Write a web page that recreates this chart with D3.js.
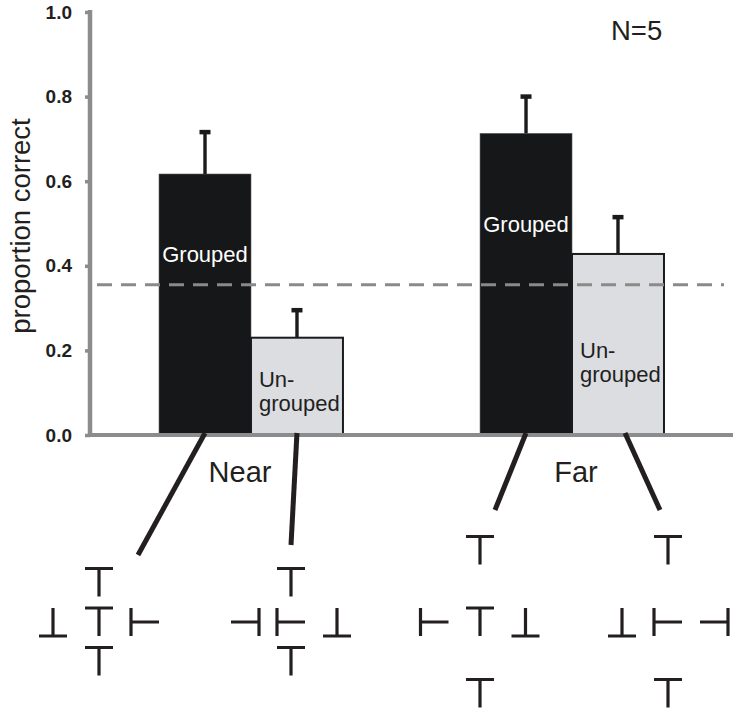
<!DOCTYPE html>
<html>
<head>
<meta charset="utf-8">
<script src="https://cdn.jsdelivr.net/npm/d3@7"></script>
<style>
  html, body { margin: 0; padding: 0; background: #fff; }
  svg { display: block; }
  text { font-family: "Liberation Sans", Arial, Helvetica, sans-serif; }
</style>
</head>
<body>
<svg id="chart" width="738" height="713"></svg>
<script>
// ---------------- data ----------------
const groups = ["Near", "Far"];
const conditions = ["Grouped", "Ungrouped"];
const groupedMean = [0.617, 0.713];
const groupedErr = [0.102, 0.090];
const ungroupedMean = [0.230, 0.428];
const ungroupedErr = [0.068, 0.090];
const chanceLevel = 0.355;
const yTicks = [0.0, 0.2, 0.4, 0.6, 0.8, 1.0];
const sampleLabel = "N=5";
const yAxisLabel = "proportion correct";

// stimulus layouts (grid column, grid row, letter orientation)
const stimNearGrouped = [
  {c: 0, r: -1, o: "T"}, {c: 0, r: 0, o: "T"}, {c: 0, r: 1, o: "T"},
  {c: -1, r: 0, o: "B"}, {c: 1, r: 0, o: "L"}
];
const stimNearUngrouped = [
  {c: 0, r: -1, o: "T"}, {c: -1, r: 0, o: "R"}, {c: 0, r: 0, o: "L"},
  {c: 1, r: 0, o: "B"}, {c: 0, r: 1, o: "T"}
];
const stimFarGrouped = [
  {c: 0, r: -1, o: "T"}, {c: 0, r: 0, o: "T"}, {c: 0, r: 1, o: "T"},
  {c: -1, r: 0, o: "L"}, {c: 1, r: 0, o: "B"}
];
const stimFarUngrouped = [
  {c: 0, r: -1, o: "T"}, {c: -1, r: 0, o: "B"}, {c: 0, r: 0, o: "L"},
  {c: 1, r: 0, o: "R"}, {c: 0, r: 1, o: "T"}
];

// ---------------- build table ----------------
const bars = [];
groups.forEach((g, i) => {
  bars.push({group: g, cond: "Grouped", mean: groupedMean[i], err: groupedErr[i], gi: i});
  bars.push({group: g, cond: "Ungrouped", mean: ungroupedMean[i], err: ungroupedErr[i], gi: i});
});

// ---------------- layout ----------------
const svg = d3.select("#chart");
const font = '"Liberation Sans", Arial, Helvetica, sans-serif';
const axisColor = "#8b8c8e";
const ink = "#1b1a1c";

const y = d3.scaleLinear().domain([0, 1]).range([435, 12]);
const xG = d3.scaleBand().domain(groups).range([90, 733])
  .paddingInner(0.427).paddingOuter(0.215);
const xC = d3.scaleBand().domain(conditions).range([0, xG.bandwidth()]);

// Y axis
const yAxis = svg.append("g").attr("transform", "translate(90,0)")
  .call(d3.axisLeft(y).tickValues(yTicks).tickFormat(d3.format(".1f"))
    .tickSize(5).tickSizeOuter(0).tickPadding(13));
yAxis.select(".domain").attr("stroke", axisColor).attr("stroke-width", 4.5)
  .attr("d", `M0,${y(0) + 2}V${y(1) - 2}`);
yAxis.selectAll(".tick line").attr("stroke", axisColor).attr("stroke-width", 3.5);
yAxis.selectAll(".tick text")
  .attr("font-family", font).attr("font-size", 19).attr("font-weight", "bold")
  .attr("fill", "#231f20");

// Y label
svg.append("text")
  .attr("transform", `translate(30,${226}) rotate(-90)`)
  .attr("text-anchor", "middle")
  .attr("font-size", 27.5).attr("fill", "#231f20")
  .text(yAxisLabel);

// Bars
const barG = svg.append("g");
barG.selectAll("rect.bar").data(bars).join("rect")
  .attr("class", "bar")
  .attr("x", d => xG(d.group) + xC(d.cond))
  .attr("width", xC.bandwidth())
  .attr("y", d => y(d.mean))
  .attr("height", d => y(0) - y(d.mean))
  .attr("fill", d => d.cond === "Grouped" ? "#161719" : "#dcdde0")
  .attr("stroke", d => d.cond === "Grouped" ? "#5a5a5c" : ink)
  .attr("stroke-width", d => d.cond === "Grouped" ? 0.6 : 2);

// Error bars
const eb = svg.append("g");
eb.selectAll("line").data(bars).join("line")
  .attr("x1", d => xG(d.group) + xC(d.cond) + xC.bandwidth() / 2)
  .attr("x2", d => xG(d.group) + xC(d.cond) + xC.bandwidth() / 2)
  .attr("y1", d => y(d.mean))
  .attr("y2", d => y(d.mean + d.err))
  .attr("stroke", ink).attr("stroke-width", 3.4);
eb.selectAll("rect").data(bars).join("rect")
  .attr("x", d => xG(d.group) + xC(d.cond) + xC.bandwidth() / 2 - 5.5)
  .attr("y", d => y(d.mean + d.err) - 1)
  .attr("width", 11).attr("height", 4.5)
  .attr("fill", ink);

// Bar labels
const grpLabelFrac = [0.663, 0.673];
const ungLabelFrac = [0.49, 0.425];
svg.selectAll("text.glab").data(bars.filter(d => d.cond === "Grouped")).join("text")
  .attr("class", "glab")
  .attr("x", d => xG(d.group) + xC(d.cond) + xC.bandwidth() / 2)
  .attr("y", d => y(d.mean * grpLabelFrac[d.gi]))
  .attr("text-anchor", "middle").attr("font-size", 22).attr("fill", "#ffffff")
  .text("Grouped");
const ung = svg.selectAll("text.ulab").data(bars.filter(d => d.cond === "Ungrouped")).join("text")
  .attr("class", "ulab")
  .attr("x", d => xG(d.group) + xC(d.cond) + 8)
  .attr("y", d => y(d.mean * ungLabelFrac[d.gi]))
  .attr("font-size", 22).attr("fill", "#231f20");
ung.append("tspan").text("Un-");
ung.append("tspan").attr("x", d => xG(d.group) + xC(d.cond) + 8).attr("dy", 24).text("grouped");

// Chance line (dashed)
svg.append("line")
  .attr("x1", 97).attr("x2", 724)
  .attr("y1", y(chanceLevel)).attr("y2", y(chanceLevel))
  .attr("stroke", "#8a8a8a").attr("stroke-width", 3)
  .attr("stroke-dasharray", "15,9");

// X axis
const xAxis = svg.append("g").attr("transform", `translate(0,${y(0)})`)
  .call(d3.axisBottom(xG).tickSize(0).tickSizeOuter(0).tickPadding(26));
xAxis.select(".domain").attr("stroke", axisColor).attr("stroke-width", 4)
  .attr("d", "M88,0H733");
xAxis.selectAll(".tick text")
  .attr("font-family", font).attr("font-size", 29).attr("fill", "#231f20")
  .attr("dx", d => d === "Near" ? -11 : 4);

// N label
svg.append("text").attr("x", 611).attr("y", 40)
  .attr("font-size", 27.5).attr("fill", "#231f20").text(sampleLabel);

// ---------------- stimuli illustrations ----------------
const stimuli = [
  {bar: bars[0], items: stimNearGrouped, cx: 99, cy: 622, col: 46, row: 39.5, end: [138, 555]},
  {bar: bars[1], items: stimNearUngrouped, cx: 291, cy: 622, col: 46, row: 39.5, end: [291, 545]},
  {bar: bars[2], items: stimFarGrouped, cx: 480, cy: 622, col: 45.5, row: 71.5, end: [495, 510]},
  {bar: bars[3], items: stimFarUngrouped, cx: 668, cy: 622, col: 46, row: 71.5, end: [660, 510]}
];

const connectorOffset = [0, 0, 0, 7];
svg.append("g").selectAll("line").data(stimuli).join("line")
  .attr("x1", (s, i) => xG(s.bar.group) + xC(s.bar.cond) + xC.bandwidth() / 2 + connectorOffset[i])
  .attr("y1", y(0) - 2)
  .attr("x2", s => s.end[0]).attr("y2", s => s.end[1])
  .attr("stroke", "#231f20").attr("stroke-width", 5);

const h = 14;
function glyphPath(cx, cy, o) {
  if (o === "T") return `M${cx - h},${cy - h}H${cx + h}M${cx},${cy - h}V${cy + h}`;
  if (o === "B") return `M${cx - h},${cy + h}H${cx + h}M${cx},${cy + h}V${cy - h}`;
  if (o === "L") return `M${cx - h},${cy - h}V${cy + h}M${cx - h},${cy}H${cx + h}`;
  return `M${cx + h},${cy - h}V${cy + h}M${cx + h},${cy}H${cx - h}`;
}
const stimG = svg.append("g");
stimuli.forEach(s => {
  stimG.append("g").selectAll("path").data(s.items).join("path")
    .attr("d", it => glyphPath(s.cx + it.c * s.col, s.cy + it.r * s.row, it.o))
    .attr("fill", "none").attr("stroke", "#231f20").attr("stroke-width", 3.2);
});
</script>
</body>
</html>
